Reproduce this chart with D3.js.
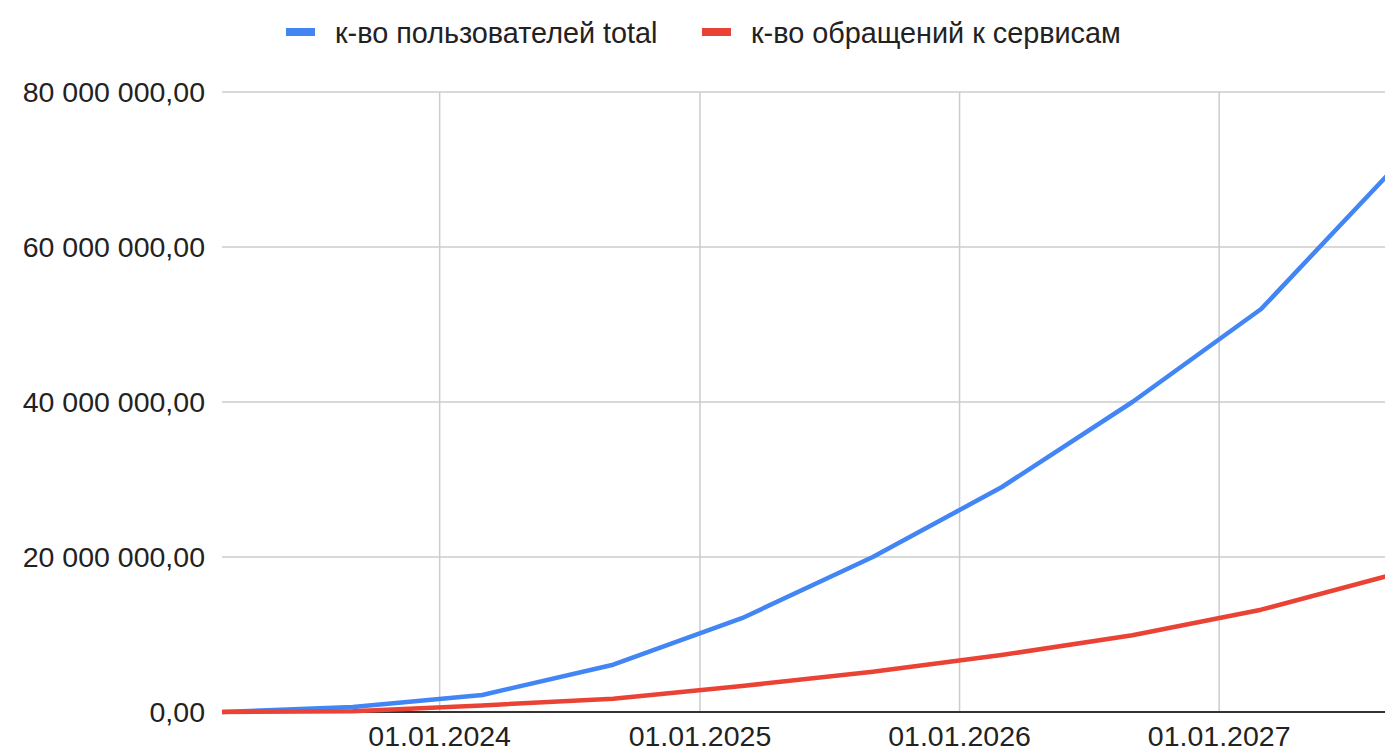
<!DOCTYPE html>
<html>
<head>
<meta charset="utf-8">
<script src="https://cdn.jsdelivr.net/npm/d3@7"></script>
<style>
html,body{margin:0;padding:0;background:#fff;overflow:hidden;}
svg{display:block;font-family:"Liberation Sans",Arial,Helvetica,sans-serif;}
</style>
</head>
<body>
<svg id="chart" width="1400" height="753"></svg>
<script>
const dates = ["2023-03-01","2023-09-01","2024-03-01","2024-09-01","2025-03-01","2025-09-01","2026-03-01","2026-09-01","2027-03-01","2027-09-01"];
const usersTotal = [0, 650000, 2200000, 6100000, 12100000, 20000000, 29000000, 40000000, 52000000, 69900000];
const serviceRequests = [0, 100000, 850000, 1700000, 3350000, 5200000, 7350000, 9900000, 13200000, 17700000];
const seriesNames = ["к-во пользователей total", "к-во обращений к сервисам"];
const seriesColors = ["#4285F4", "#EA4335"];
const yTicks = [0, 20000000, 40000000, 60000000, 80000000];
const xTicks = ["2024-01-01","2025-01-01","2026-01-01","2027-01-01"];

(function () {
const parse = d3.timeParse("%Y-%m-%d");
const svg = d3.select("#chart");
const pLeft = 222, pRight = 1392, pTop = 92, pBottom = 712;

const x = d3.scaleTime().domain([parse(dates[0]), parse(dates[dates.length-1])]).range([pLeft, pRight]);
const y = d3.scaleLinear().domain([0, 80000000]).range([pBottom, pTop]);

const ru = d3.formatLocale({decimal: ",", thousands: "\u00a0", grouping: [3], currency: ["", ""]});
const yFmt = ru.format(",.2f");
const xFmt = d3.timeFormat("%d.%m.%Y");

// horizontal gridlines
svg.append("g").selectAll("line").data(yTicks.filter(d => d > 0)).join("line")
  .attr("x1", pLeft).attr("x2", 1400)
  .attr("y1", d => y(d)).attr("y2", d => y(d))
  .attr("stroke", "#cccccc").attr("stroke-width", 1.5);

// vertical gridlines
svg.append("g").selectAll("line").data(xTicks.map(parse)).join("line")
  .attr("x1", d => x(d)).attr("x2", d => x(d))
  .attr("y1", pTop).attr("y2", pBottom)
  .attr("stroke", "#cccccc").attr("stroke-width", 1.5);

// y labels
svg.append("g").selectAll("text").data(yTicks).join("text")
  .attr("x", 205).attr("y", d => y(d)).attr("dy", "0.36em")
  .attr("text-anchor", "end").attr("font-size", 28.5).attr("fill", "#222")
  .text(d => yFmt(d));

// x labels
svg.append("g").selectAll("text").data(xTicks.map(parse)).join("text")
  .attr("x", d => x(d)).attr("y", 746)
  .attr("text-anchor", "middle").attr("font-size", 28.5).attr("fill", "#222")
  .text(d => xFmt(d));

// baseline
svg.append("line").attr("x1", pLeft).attr("x2", 1400).attr("y1", y(0)).attr("y2", y(0))
  .attr("stroke", "#333").attr("stroke-width", 2);

// lines
const series = [usersTotal, serviceRequests];
const line = d3.line().x((d, i) => x(parse(dates[i]))).y(d => y(d));
series.forEach((vals, k) => {
  svg.append("path").datum(vals).attr("d", line)
    .attr("fill", "none").attr("stroke", seriesColors[k]).attr("stroke-width", 4.5)
    .attr("stroke-linejoin", "round").attr("stroke-linecap", "butt");
});

// legend
const legX = [286, 702];
const legend = svg.append("g");
seriesNames.forEach((name, k) => {
  legend.append("rect").attr("x", legX[k]).attr("y", 28).attr("width", 29).attr("height", 8)
    .attr("fill", seriesColors[k]);
  legend.append("text").attr("x", legX[k] + 49).attr("y", 43)
    .attr("font-size", 28.8).attr("fill", "#222").text(name);
});
})();
</script>
</body>
</html>
